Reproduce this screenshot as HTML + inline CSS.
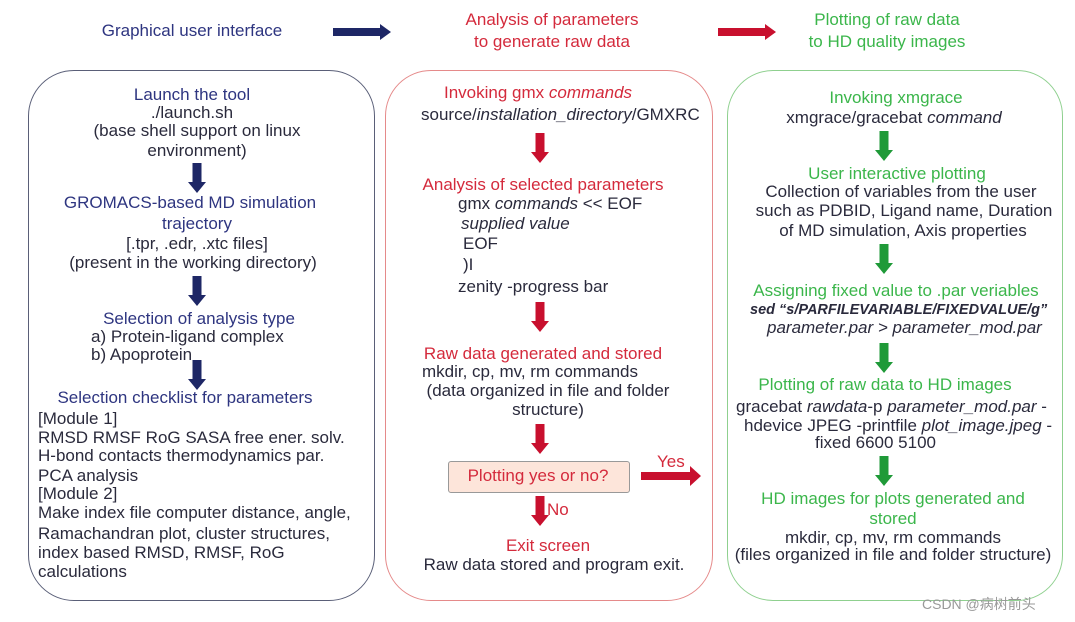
<!DOCTYPE html>
<html><head><meta charset="utf-8"><style>
body{margin:0;width:1075px;height:622px;background:#fff;position:relative;overflow:hidden;font-family:"Liberation Sans",Arial,sans-serif;font-size:17px;}
.t{position:absolute;white-space:nowrap;line-height:18px;}
.c{transform:translateX(-50%);}
.b{color:#2e3580}.k{color:#2a2a3c}.r{color:#d42a3c}.g{color:#3bb64b}
.box{position:absolute;border-radius:46px;}
</style></head><body>
<div class="box" style="left:28px;top:70px;width:345px;height:529px;border:1.5px solid #5a5f78"></div>
<div class="box" style="left:385px;top:70px;width:326px;height:529px;border:1.5px solid #e58a8a"></div>
<div class="box" style="left:727px;top:70px;width:334px;height:529px;border:1.5px solid #8fd08f"></div>
<div style="position:absolute;left:448px;top:461px;width:180px;height:30px;background:#fde5da;border:1px solid #999;border-radius:3px"></div>

<svg width="1075" height="622" style="position:absolute;left:0;top:0">
<defs>
<g id="dn"><rect x="-4.5" y="0" width="9" height="21" /><polygon points="-9,19 9,19 0,30"/></g>
</defs>
<g fill="#1e2766"><polygon points="333,28 380,28 380,24 391,32 380,40 380,36 333,36"/>
<use href="#dn" transform="translate(197,163)"/><use href="#dn" transform="translate(197,276)"/><use href="#dn" transform="translate(197,360)"/></g>
<g fill="#c8102e"><polygon points="718,28 765,28 765,24 776,32 765,40 765,36 718,36"/>
<use href="#dn" transform="translate(540,133)"/><use href="#dn" transform="translate(540,302)"/><use href="#dn" transform="translate(540,424)"/><use href="#dn" transform="translate(540,496)"/>
<polygon points="641,472 690,472 690,466 701,476 690,486 690,480 641,480"/></g>
<g fill="#1f9a38"><use href="#dn" transform="translate(884,131)"/><use href="#dn" transform="translate(884,244)"/><use href="#dn" transform="translate(884,343)"/><use href="#dn" transform="translate(884,456)"/></g>
</svg>

<div class="t c b" style="left:192px;top:22px">Graphical user interface</div>
<div class="t c r" style="left:552px;top:11px">Analysis of parameters</div>
<div class="t c r" style="left:552px;top:33px">to generate raw data</div>
<div class="t c g" style="left:887px;top:11px">Plotting of raw data</div>
<div class="t c g" style="left:887px;top:33px">to HD quality images</div>

<div class="t c b" style="left:192px;top:86px">Launch the tool</div>
<div class="t c k" style="left:192px;top:104px">./launch.sh</div>
<div class="t c k" style="left:197px;top:122px">(base shell support on linux</div>
<div class="t c k" style="left:197px;top:142px">environment)</div>
<div class="t c b" style="left:190px;top:194px">GROMACS-based MD simulation</div>
<div class="t c b" style="left:197px;top:215px">trajectory</div>
<div class="t c k" style="left:197px;top:235px">[.tpr, .edr, .xtc files]</div>
<div class="t c k" style="left:193px;top:254px">(present in the working directory)</div>
<div class="t c b" style="left:199px;top:310px">Selection of analysis type</div>
<div class="t k" style="left:91px;top:328px">a) Protein-ligand complex</div>
<div class="t k" style="left:91px;top:346px">b) Apoprotein</div>
<div class="t c b" style="left:185px;top:389px">Selection checklist for parameters</div>
<div class="t k" style="left:38px;top:410px">[Module 1]</div>
<div class="t k" style="left:38px;top:429px">RMSD RMSF RoG SASA free ener. solv.</div>
<div class="t k" style="left:38px;top:447px">H-bond contacts thermodynamics par.</div>
<div class="t k" style="left:38px;top:467px">PCA analysis</div>
<div class="t k" style="left:38px;top:485px">[Module 2]</div>
<div class="t k" style="left:38px;top:504px">Make index file computer distance, angle,</div>
<div class="t k" style="left:38px;top:525px">Ramachandran plot, cluster structures,</div>
<div class="t k" style="left:38px;top:544px">index based RMSD, RMSF, RoG</div>
<div class="t k" style="left:38px;top:563px">calculations</div>

<div class="t r" style="left:444px;top:84px">Invoking gmx <i>commands</i></div>
<div class="t k" style="left:421px;top:106px">source/<i>installation_directory</i>/GMXRC</div>
<div class="t c r" style="left:543px;top:176px">Analysis of selected parameters</div>
<div class="t k" style="left:458px;top:195px">gmx <i>commands</i> &lt;&lt; EOF</div>
<div class="t k" style="left:461px;top:215px"><i>supplied value</i></div>
<div class="t k" style="left:463px;top:235px">EOF</div>
<div class="t k" style="left:463px;top:256px">)I</div>
<div class="t k" style="left:458px;top:278px">zenity -progress bar</div>
<div class="t c r" style="left:543px;top:345px">Raw data generated and stored</div>
<div class="t c k" style="left:530px;top:363px">mkdir, cp, mv, rm commands</div>
<div class="t c k" style="left:548px;top:382px">(data organized in file and folder</div>
<div class="t c k" style="left:548px;top:401px">structure)</div>
<div class="t c r" style="left:538px;top:467px">Plotting yes or no?</div>
<div class="t r" style="left:657px;top:453px">Yes</div>
<div class="t r" style="left:547px;top:501px">No</div>
<div class="t c r" style="left:548px;top:537px">Exit screen</div>
<div class="t c k" style="left:554px;top:556px">Raw data stored and program exit.</div>

<div class="t c g" style="left:896px;top:89px">Invoking xmgrace</div>
<div class="t c k" style="left:894px;top:109px">xmgrace/gracebat <i>command</i></div>
<div class="t c g" style="left:897px;top:165px">User interactive plotting</div>
<div class="t c k" style="left:901px;top:183px">Collection of variables from the user</div>
<div class="t c k" style="left:904px;top:202px">such as PDBID, Ligand name, Duration</div>
<div class="t c k" style="left:903px;top:222px">of MD simulation, Axis properties</div>
<div class="t c g" style="left:896px;top:282px">Assigning fixed value to .par veriables</div>
<div class="t k" style="left:750px;top:301px;font-size:14.5px"><b><i>sed “s/PARFILEVARIABLE/FIXEDVALUE/g”</i></b></div>
<div class="t k" style="left:767px;top:319px"><i>parameter.par &gt; parameter_mod.par</i></div>
<div class="t c g" style="left:885px;top:376px">Plotting of raw data to HD images</div>
<div class="t k" style="left:736px;top:398px">gracebat <i>rawdata</i>-p <i>parameter_mod.par</i> -</div>
<div class="t k" style="left:744px;top:417px">hdevice JPEG -printfile <i>plot_image.jpeg</i> -</div>
<div class="t k" style="left:815px;top:434px">fixed 6600 5100</div>
<div class="t c g" style="left:893px;top:490px">HD images for plots generated and</div>
<div class="t c g" style="left:893px;top:510px">stored</div>
<div class="t c k" style="left:893px;top:529px">mkdir, cp, mv, rm commands</div>
<div class="t c k" style="left:893px;top:546px">(files organized in file and folder structure)</div>

<div class="t" style="left:922px;top:595px;font-size:14px;color:#999">CSDN @病树前头</div>
</body></html>
